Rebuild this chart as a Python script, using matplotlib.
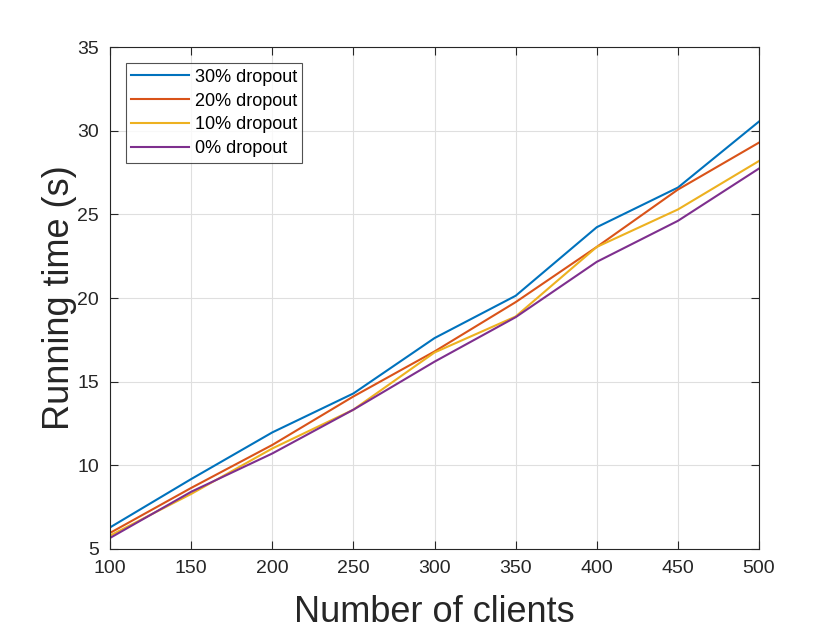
import matplotlib
matplotlib.use("Agg")
import matplotlib.pyplot as plt

plt.rcParams['font.family'] = ['Liberation Sans', 'DejaVu Sans']

clients = [100, 150, 200, 250, 300, 350, 400, 450, 500]
drop30 = [6.29, 9.18, 11.97, 14.30, 17.61, 20.14, 24.24, 26.61, 30.56]
drop20 = [5.96, 8.65, 11.22, 14.12, 16.81, 19.76, 23.06, 26.49, 29.30]
drop10 = [5.80, 8.29, 11.01, 13.33, 16.75, 18.90, 23.06, 25.30, 28.20]
drop0 = [5.66, 8.42, 10.71, 13.33, 16.20, 18.86, 22.17, 24.62, 27.75]
labels = ['30% dropout', '20% dropout', '10% dropout', '0% dropout']
colors = ['#0072BD', '#D95319', '#EDB120', '#7E2F8E']
xticks = [100, 150, 200, 250, 300, 350, 400, 450, 500]
yticks = [5, 10, 15, 20, 25, 30, 35]

fig = plt.figure(figsize=(8.4, 6.3), dpi=100)
ax = fig.add_axes([0.131, 0.1286, 0.7726, 0.7964])

for ys, lab, c in zip([drop30, drop20, drop10, drop0], labels, colors):
    ax.plot(clients, ys, color=c, lw=1.5, label=lab)

ax.set_xlim(100, 500)
ax.set_ylim(5, 35)
ax.set_xticks(xticks)
ax.set_yticks(yticks)
ax.grid(True, color='#dfdfdf', lw=0.8)
ax.set_axisbelow(True)
ax.tick_params(direction='in', labelsize=14, length=6, width=0.8, colors='#262626',
               top=True, right=True)
ax.tick_params(axis='x', pad=8)
ax.tick_params(axis='y', pad=8)
for s in ax.spines.values():
    s.set_color('#262626')
    s.set_linewidth(0.8)

ax.set_xlabel('Number of clients', fontsize=26, color='#262626', labelpad=13)
ax.set_ylabel('Running time (s)', fontsize=26, color='#262626', labelpad=0)

leg = ax.legend(loc='upper left', bbox_to_anchor=(0.0247, 0.968), fontsize=13,
                frameon=True, fancybox=False, edgecolor='#262626',
                handlelength=3.2, handletextpad=0.3, labelspacing=0.38,
                borderpad=0.3, borderaxespad=0)
leg.get_frame().set_linewidth(0.8)

fig.savefig('out.png', dpi=100)
